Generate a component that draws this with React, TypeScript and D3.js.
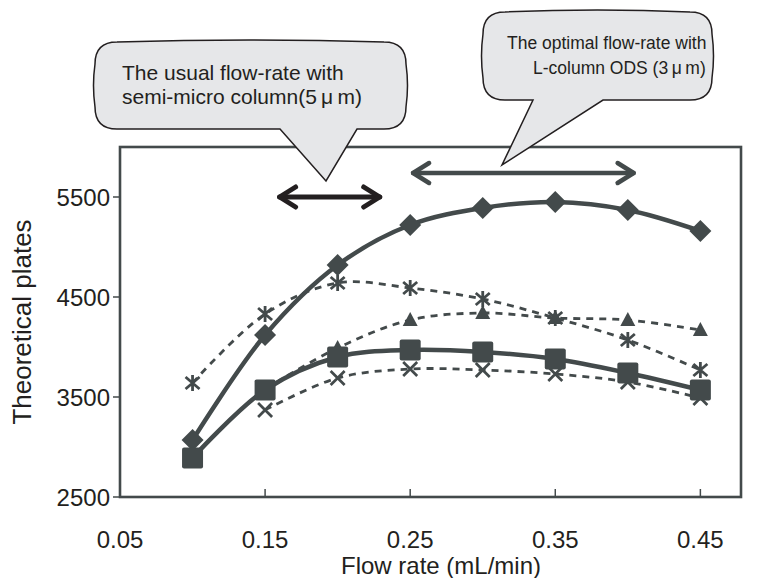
import * as d3 from "d3";

const W = 760;
const H = 578;
const LEFT = 120;
const RIGHT = 741;
const TOP = 147;
const BOTTOM = 497;

const INK = "#434a4b";
const TEXT = "#231f20";
const FONT = "'Liberation Sans', Arial, Helvetica, sans-serif";

// flow rate (mL/min)
const flowRates = [0.1, 0.15, 0.2, 0.25, 0.3, 0.35, 0.4, 0.45];

// theoretical plates per series (null = no point)
const diamondSeries = [3070, 4120, 4820, 5220, 5390, 5450, 5370, 5160];
const squareSeries = [2890, 3570, 3900, 3970, 3950, 3880, 3740, 3570];
const asteriskSeries = [3640, 4330, 4640, 4590, 4480, 4290, 4070, 3770];
const triangleSeries = [null, 3580, 3990, 4270, 4340, 4290, 4270, 4170];
const crossSeries = [null, 3370, 3690, 3780, 3770, 3730, 3650, 3490];

const xTicks = [0.05, 0.15, 0.25, 0.35, 0.45];
const xTickLabels = ["0.05", "0.15", "0.25", "0.35", "0.45"];
const yTicks = [2500, 3500, 4500, 5500];

// annotation arrows: [from, to] in flow rate, at a plate level
const usualRange = [0.16, 0.229];
const usualLevel = 5500;
const optimalRange = [0.252, 0.404];
const optimalLevel = 5740;

const x = d3.scaleLinear().domain([0.05, 0.478]).range([LEFT, RIGHT]);
const y = d3.scaleLinear().domain([2500, 6000]).range([BOTTOM, TOP]);

type Pt = { fr: number; v: number };

function toPoints(vals: (number | null)[]): Pt[] {
  return flowRates
    .map((fr, i) => ({ fr, v: vals[i] as number }))
    .filter((d) => d.v != null);
}

const line = d3
  .line<Pt>()
  .x((d) => x(d.fr))
  .y((d) => y(d.v))
  .curve(d3.curveCatmullRom.alpha(0.5));

function Marker({ kind, cx, cy }: { kind: string; cx: number; cy: number }) {
  if (kind === "diamond") {
    const r = 11;
    return <path d={`M${cx},${cy - r}L${cx + r},${cy}L${cx},${cy + r}L${cx - r},${cy}Z`} fill={INK} />;
  }
  if (kind === "square") {
    return <rect x={cx - 10.5} y={cy - 10.5} width={21} height={21} rx={2} fill={INK} />;
  }
  if (kind === "triangle") {
    return <path d={`M${cx},${cy - 8}L${cx + 7.5},${cy + 6}L${cx - 7.5},${cy + 6}Z`} fill={INK} />;
  }
  if (kind === "asterisk") {
    return (
      <path
        d={`M${cx},${cy - 8}V${cy + 8}M${cx - 7},${cy - 6}L${cx + 7},${cy + 6}M${cx - 7},${cy + 6}L${cx + 7},${cy - 6}`}
        stroke={INK}
        strokeWidth={2.8}
      />
    );
  }
  const r = 7;
  return (
    <path
      d={`M${cx - r},${cy - r}L${cx + r},${cy + r}M${cx - r},${cy + r}L${cx + r},${cy - r}`}
      stroke={INK}
      strokeWidth={2.7}
    />
  );
}

function Series({ vals, kind, dashed }: { vals: (number | null)[]; kind: string; dashed: boolean }) {
  const pts = toPoints(vals);
  return (
    <g>
      <path
        d={line(pts) || ""}
        fill="none"
        stroke={INK}
        strokeWidth={dashed ? 2.8 : 4.5}
        strokeDasharray={dashed ? "7 6" : undefined}
      />
      {pts.map((p, i) => (
        <Marker key={i} kind={kind} cx={x(p.fr)} cy={y(p.v)} />
      ))}
    </g>
  );
}

function DoubleArrow({ x1, x2, yy, color, sw }: { x1: number; x2: number; yy: number; color: string; sw: number }) {
  const hl = 16;
  const hh = 10;
  return (
    <g stroke={color} strokeWidth={sw} strokeLinecap="round" strokeLinejoin="round" fill="none">
      <line x1={x1} y1={yy} x2={x2} y2={yy} />
      <polyline points={`${x1 + hl},${yy - hh} ${x1},${yy} ${x1 + hl},${yy + hh}`} />
      <polyline points={`${x2 - hl},${yy - hh} ${x2},${yy} ${x2 - hl},${yy + hh}`} />
    </g>
  );
}

function bubble(x0: number, y0: number, x1: number, y1: number, p0: number, p1: number, tip: [number, number]) {
  const r = 22;
  return `M${x0 + r},${y0}
    Q${(x0 + x1) / 2},${y0 - 4} ${x1 - r},${y0}
    Q${x1},${y0} ${x1},${y0 + r}
    Q${x1 + 3},${(y0 + y1) / 2} ${x1},${y1 - r}
    Q${x1},${y1} ${x1 - r},${y1}
    L${p1},${y1} L${tip[0]},${tip[1]} L${p0},${y1}
    L${x0 + r},${y1}
    Q${x0},${y1} ${x0},${y1 - r}
    Q${x0 - 3},${(y0 + y1) / 2} ${x0},${y0 + r}
    Q${x0},${y0} ${x0 + r},${y0} Z`;
}

export default function App() {
  return (
    <svg
      width={W}
      height={H}
      viewBox={`0 0 ${W} ${H}`}
      style={{ position: "absolute", left: 0, top: 0, background: "#fff" }}
      fontFamily={FONT}
    >
      <rect width={W} height={H} fill="#fff" />

      {/* plot frame */}
      <rect x={LEFT} y={TOP} width={RIGHT - LEFT} height={BOTTOM - TOP} fill="none" stroke={INK} strokeWidth={2.6} />

      {/* y axis */}
      {yTicks.map((t) => (
        <g key={t}>
          <line x1={LEFT - 7} x2={LEFT} y1={y(t)} y2={y(t)} stroke={INK} strokeWidth={1.5} />
          <text x={LEFT - 10} y={y(t)} dy="0.36em" textAnchor="end" fontSize={24} fill={TEXT}>
            {t}
          </text>
        </g>
      ))}
      <text
        transform={`translate(31,${(TOP + BOTTOM) / 2}) rotate(-90)`}
        textAnchor="middle"
        fontSize={26}
        fill={TEXT}
      >
        Theoretical plates
      </text>

      {/* x axis */}
      {xTicks.map((t, i) => (
        <g key={t}>
          {i > 0 && <line x1={x(t)} x2={x(t)} y1={BOTTOM} y2={BOTTOM - 8} stroke={INK} strokeWidth={1.5} />}
          <text x={x(t)} y={548} textAnchor="middle" fontSize={24} fill={TEXT}>
            {xTickLabels[i]}
          </text>
        </g>
      ))}
      <text x={441} y={573.5} textAnchor="middle" fontSize={24} fill={TEXT}>
        Flow rate (mL/min)
      </text>

      {/* series */}
      <Series vals={asteriskSeries} kind="asterisk" dashed />
      <Series vals={triangleSeries} kind="triangle" dashed />
      <Series vals={crossSeries} kind="cross" dashed />
      <Series vals={diamondSeries} kind="diamond" dashed={false} />
      <Series vals={squareSeries} kind="square" dashed={false} />

      {/* range arrows */}
      <DoubleArrow x1={x(usualRange[0])} x2={x(usualRange[1])} yy={y(usualLevel)} color={TEXT} sw={5} />
      <DoubleArrow x1={x(optimalRange[0])} x2={x(optimalRange[1])} yy={y(optimalLevel)} color={INK} sw={4.5} />

      {/* callouts */}
      <path d={bubble(95, 42, 406, 129, 280, 357, [326, 181])} fill="#e6e7e9" stroke={TEXT} strokeWidth={1.5} />
      <text fontSize={21} fill={TEXT}>
        <tspan x={122} y={80}>The usual flow-rate with</tspan>
        <tspan x={122} y={104}>semi-micro column(5{"\u2009"}μ{"\u2009"}m)</tspan>
      </text>

      <path d={bubble(483, 12, 712, 100, 533, 603, [502, 165])} fill="#e6e7e9" stroke={TEXT} strokeWidth={1.5} />
      <text fontSize={17.5} fill={TEXT}>
        <tspan x={507} y={49}>The optimal flow-rate with</tspan>
        <tspan x={533} y={74}>L-column ODS (3{"\u2009"}μ{"\u2009"}m)</tspan>
      </text>
    </svg>
  );
}
